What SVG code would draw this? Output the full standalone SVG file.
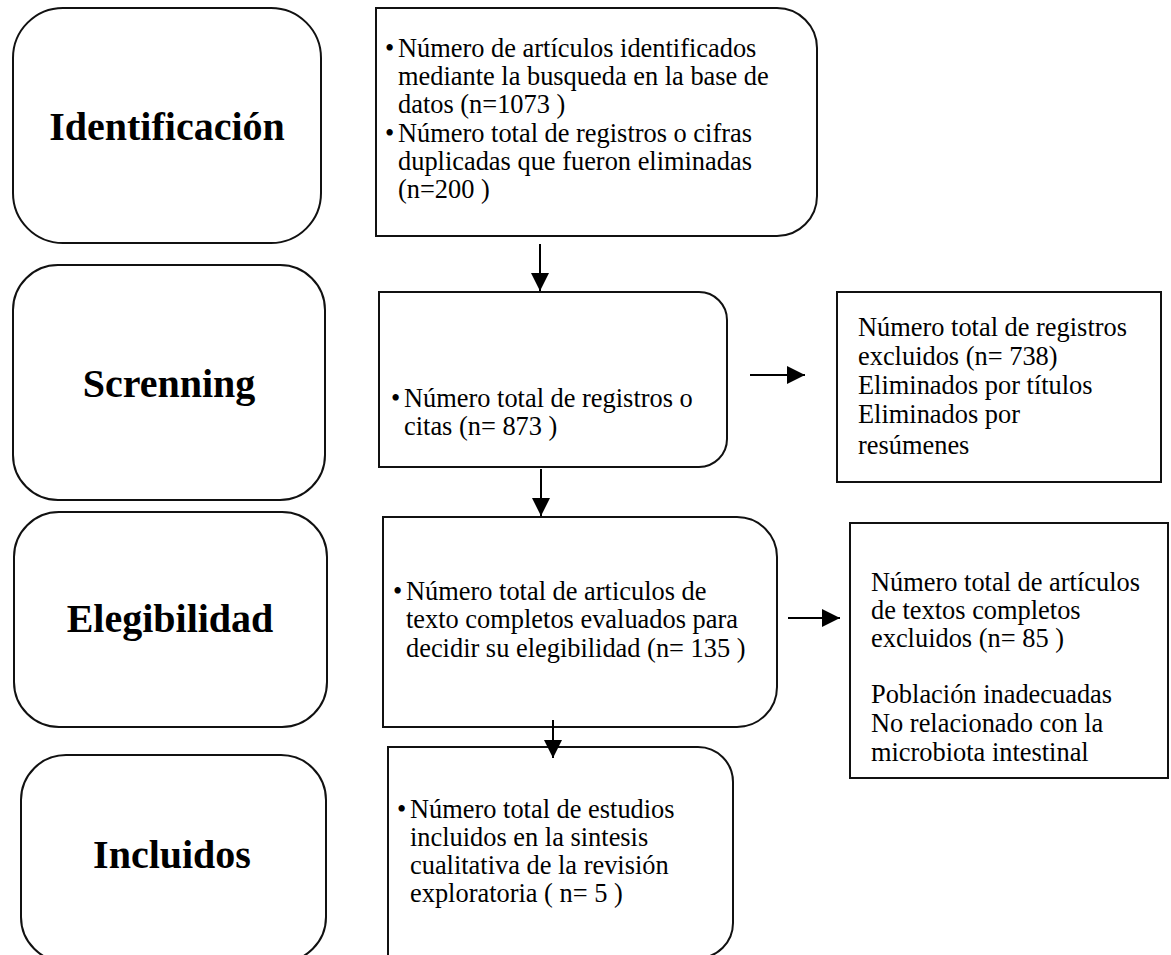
<svg xmlns="http://www.w3.org/2000/svg" width="1171" height="955" viewBox="0 0 1171 955">
<defs>
<marker id="ah" markerUnits="userSpaceOnUse" markerWidth="18" markerHeight="18" viewBox="0 0 16 16" refX="16" refY="8" orient="auto">
<path d="M0,0 L16,8 L0,16 Z" fill="#000"/>
</marker>
<style>
.box{fill:#fff;stroke:#111;stroke-width:2}
.lbl{font-family:"Liberation Serif","Times New Roman",serif;font-weight:bold;font-size:40px;fill:#000;text-anchor:middle}
.t{font-family:"Liberation Serif","Times New Roman",serif;font-size:26.4px;fill:#000}
.con{stroke:#000;stroke-width:2;fill:none;marker-end:url(#ah)}
</style>
</defs>
<rect width="1171" height="955" fill="#fff"/>

<g id="identificacion">
<rect class="box" x="13" y="8" width="308" height="235" rx="50"/>
<text class="lbl" x="167" y="140">Identificación</text>
</g>
<g id="identificacion-detalle">
<path class="box" d="M376,8 H777 A40,40 0 0 1 817,48 V196 A40,40 0 0 1 777,236 H376 Z"/>
<text class="t"><tspan x="385" y="57">•</tspan><tspan x="398" y="57">Número de artículos identificados</tspan><tspan x="398" y="85">mediante la busqueda en la base de</tspan><tspan x="398" y="113">datos (n=1073  )</tspan><tspan x="385" y="142">•</tspan><tspan x="398" y="142">Número total de registros o cifras</tspan><tspan x="398" y="170">duplicadas que fueron eliminadas</tspan><tspan x="398" y="198">(n=200  )</tspan></text>
</g>

<g id="screnning">
<rect class="box" x="13" y="265" width="312" height="235" rx="45"/>
<text class="lbl" x="169" y="397">Screnning</text>
</g>
<g id="screnning-detalle">
<path class="box" d="M379,292 H699 A28,28 0 0 1 727,320 V439 A28,28 0 0 1 699,467 H379 Z"/>
<text class="t"><tspan x="391" y="407">•</tspan><tspan x="404" y="407">Número total de registros o</tspan><tspan x="404" y="435">citas (n= 873 )</tspan></text>
</g>
<g id="excluidos-1">
<rect class="box" x="837" y="292" width="324" height="190"/>
<text class="t"><tspan x="858" y="336">Número total de registros</tspan><tspan x="858" y="365">excluidos (n= 738)</tspan><tspan x="858" y="394">Eliminados por títulos</tspan><tspan x="858" y="423">Eliminados por</tspan><tspan x="858" y="454">resúmenes</tspan></text>
</g>

<g id="elegibilidad">
<rect class="box" x="14" y="512" width="313" height="215" rx="45"/>
<text class="lbl" x="170" y="632">Elegibilidad</text>
</g>
<g id="elegibilidad-detalle">
<path class="box" d="M383,517 H737 A40,40 0 0 1 777,557 V687 A40,40 0 0 1 737,727 H383 Z"/>
<text class="t"><tspan x="393" y="600">•</tspan><tspan x="406" y="600">Número total de articulos de</tspan><tspan x="406" y="628">texto completos evaluados para</tspan><tspan x="406" y="657">decidir su elegibilidad (n= 135 )</tspan></text>
</g>
<g id="excluidos-2">
<rect class="box" x="850" y="523" width="318" height="255"/>
<text class="t"><tspan x="871" y="591">Número total de artículos</tspan><tspan x="871" y="619">de textos completos</tspan><tspan x="871" y="647">excluidos (n= 85 )</tspan><tspan x="871" y="703">Población inadecuadas</tspan><tspan x="871" y="732">No relacionado con la</tspan><tspan x="871" y="761">microbiota intestinal</tspan></text>
</g>

<g id="incluidos">
<rect class="box" x="21" y="755" width="305" height="207" rx="45"/>
<text class="lbl" x="172" y="868">Incluidos</text>
</g>
<g id="incluidos-detalle">
<path class="box" d="M388,747 H698 A35,35 0 0 1 733,782 V923 A35,35 0 0 1 698,958 H388 Z"/>
<text class="t"><tspan x="397" y="818">•</tspan><tspan x="410" y="818">Número total de estudios</tspan><tspan x="410" y="846">incluidos en la sintesis</tspan><tspan x="410" y="874">cualitativa de la revisión</tspan><tspan x="410" y="902">exploratoria ( n= 5 )</tspan></text>
</g>

<g id="connectors">
<line class="con" x1="540" y1="244" x2="540" y2="291"/>
<line class="con" x1="750" y1="375" x2="805" y2="375"/>
<line class="con" x1="541" y1="469" x2="541" y2="516"/>
<line class="con" x1="788" y1="618" x2="840" y2="618"/>
<line class="con" x1="553" y1="720" x2="553" y2="758"/>
</g>
</svg>
